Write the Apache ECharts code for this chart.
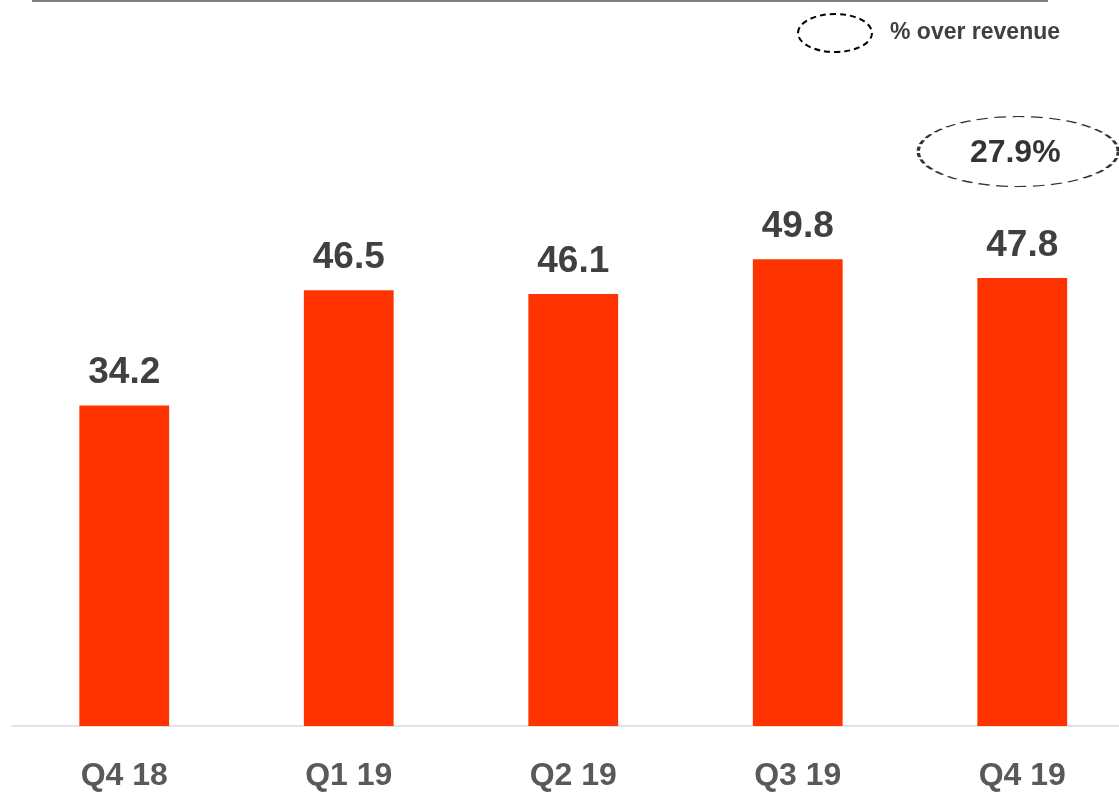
<!DOCTYPE html>
<html>
<head>
<meta charset="utf-8">
<script src="https://cdn.jsdelivr.net/npm/echarts@6/dist/echarts.min.js"></script>
<style>
html,body{margin:0;padding:0;background:#fff;overflow:hidden;width:1119px;height:792px;}
#c{width:1135px;height:792px;}
</style>
</head>
<body>
<div id="c"></div>
<script>
var categories = ['Q4 18', 'Q1 19', 'Q2 19', 'Q3 19', 'Q4 19'];
var values = [34.2, 46.5, 46.1, 49.8, 47.8];
var pctCategory = 'Q4 19';
var pctLabel = '27.9%';
var legendText = '% over revenue';

var FONT = '"Liberation Sans", Arial, sans-serif';
var chart = echarts.init(document.getElementById('c'), null, {renderer: 'canvas'});
chart.setOption({
  animation: false,
  backgroundColor: '#ffffff',
  grid: {left: 12, top: 70, right: 0.5, height: 657, containLabel: false},
  xAxis: {
    type: 'category',
    data: categories,
    axisLine: {show: true, lineStyle: {color: '#d9d9d9', width: 1.5}},
    axisTick: {show: false},
    axisLabel: {color: '#595959', fontSize: 32, fontWeight: 'bold', fontFamily: FONT, margin: 34}
  },
  yAxis: {
    type: 'value', min: 0, max: 70,
    show: false,
    splitLine: {show: false}
  },
  series: [
    {
      type: 'bar',
      data: values,
      barWidth: '40%',
      itemStyle: {color: '#ff3300'},
      label: {
        show: true, position: 'top', distance: 14,
        color: '#404040', fontSize: 37, fontWeight: 'bold', fontFamily: FONT,
        formatter: function (p) { return p.value.toFixed(1); }
      }
    },
    {
      type: 'scatter',
      data: [[pctCategory, 61.3]],
      symbol: 'circle',
      symbolSize: [200, 70],
      symbolOffset: [-4, 0],
      itemStyle: {color: 'rgba(0,0,0,0)', borderColor: '#000', borderWidth: 2, borderType: [7, 4]},
      label: {
        show: true, position: 'inside', offset: [-3, 2],
        color: '#000', fontSize: 32, fontWeight: 'bold', fontFamily: FONT,
        formatter: function () { return pctLabel; }
      },
      silent: true
    }
  ],
  graphic: [
    {type: 'line', shape: {x1: 32, y1: 1, x2: 1048, y2: 1}, style: {stroke: '#7f7f7f', lineWidth: 2}},
    {type: 'ellipse', shape: {cx: 835, cy: 33, rx: 37, ry: 19},
     style: {fill: 'none', stroke: '#000', lineWidth: 2, lineDash: [6, 4]}},
    {type: 'text', left: 890, top: 21,
     style: {text: legendText, fill: '#404040', font: 'bold 23px ' + FONT}}
  ]
});
</script>
</body>
</html>
